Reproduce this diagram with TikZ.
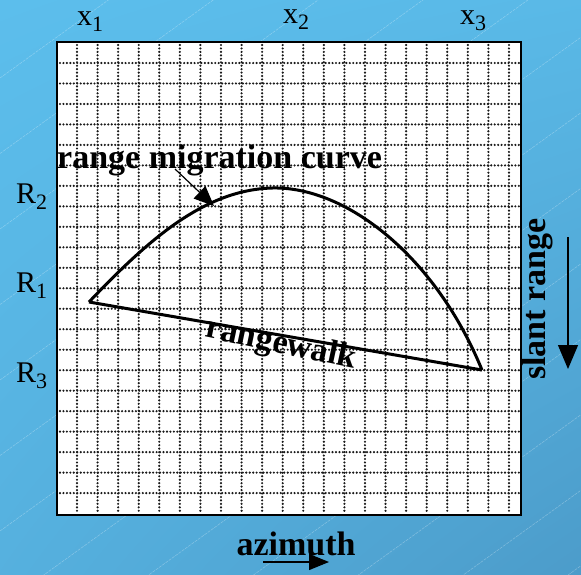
\documentclass[tikz,border=0pt]{standalone}
\usepackage{fontspec}
\setmainfont{Liberation Serif}
\usetikzlibrary{arrows.meta, shadings}
\definecolor{skyA}{RGB}{92,190,236}
\definecolor{skyB}{RGB}{76,156,202}
\newcommand{\lowidx}[1]{\raisebox{-0.22em}{\fontsize{22}{24}\selectfont #1}}
\tikzset{
    dotline/.style={black!90, line width=2.4pt, line cap=round, dash pattern=on 0pt off 3.45pt},
    axislabel/.style={font=\fontsize{30}{36}\selectfont, inner sep=0pt},
    boldlabel/.style={font=\fontsize{34}{40}\selectfont\bfseries, inner sep=0pt},
    thickcurve/.style={line width=3pt, line join=round}
}
\begin{document}
\begin{tikzpicture}[x=1pt, y=-1pt]
    \useasboundingbox (0,0) rectangle (581,574);
    % background with faint diagonal streaks
    \shade[upper left=skyA, upper right=skyA!85!skyB, lower left=skyA!60!skyB, lower right=skyB] (0,0) rectangle (581,574);
    \begin{scope}
        \clip (0,0) rectangle (581,574);
        \foreach \k in {0,...,13} {
            \draw[white, opacity=0.3, line width=0.5pt, dash pattern=on 3pt off 1pt] (0,78+75.5*\k) -- (581,78+75.5*\k-418.3);
        }
    \end{scope}
    % paper with dotted grid
    \fill[white] (57,42) rectangle (521,515);
    \foreach \i in {0,...,21} {
        \draw[dotline] (77+20.57*\i,45) -- (77+20.57*\i,513);
        \draw[dotline] (60,63+20.48*\i) -- (519,63+20.48*\i);
    }
    \draw[line width=2pt] (57,42) rectangle (521,515);
    % labels round the grid
    \node[axislabel, anchor=base west] (x1) at (77,25) {x\lowidx{1}};
    \node[axislabel, anchor=base west] (x2) at (283,23) {x\lowidx{2}};
    \node[axislabel, anchor=base west] (x3) at (460,24) {x\lowidx{3}};
    \node[axislabel, anchor=base west] (R2) at (16,203) {R\lowidx{2}};
    \node[axislabel, anchor=base west] (R1) at (16,292) {R\lowidx{1}};
    \node[axislabel, anchor=base west] (R3) at (16,382) {R\lowidx{3}};
    % migration curve and walk
    \coordinate (p1) at (89,302);
    \coordinate (peak) at (272,188);
    \coordinate (p3) at (482,370);
    \draw[thickcurve] (p1) .. controls (150,238) and (205,190) .. (peak)
        .. controls (345,186) and (435,255) .. (p3);
    \draw[thickcurve] (p1) -- (p3);
    \node[boldlabel, anchor=base west] (rmc) at (57,168) {range migration curve};
    \coordinate (rmcend) at (214,206);
    \draw[line width=1.2pt, -{Triangle[length=20pt, width=17pt]}] (175,169) -- (rmcend);
    \node[boldlabel, rotate=-12] (walk) at (281,345) {rangewalk};
    % axis directions
    \node[boldlabel, rotate=90] (slant) at (537,299) {slant range};
    \coordinate (sTop) at (568,237);
    \coordinate (sBot) at (568,369);
    \draw[line width=1.2pt, -{Triangle[length=24pt, width=20pt]}] (sTop) -- (sBot);
    \node[boldlabel, anchor=base] (azi) at (296,555) {azimuth};
    \coordinate (aLeft) at (263,562);
    \coordinate (aRight) at (329,562);
    \draw[line width=1.2pt, -{Triangle[length=20pt, width=16pt]}] (aLeft) -- (aRight);
\end{tikzpicture}
\end{document}
